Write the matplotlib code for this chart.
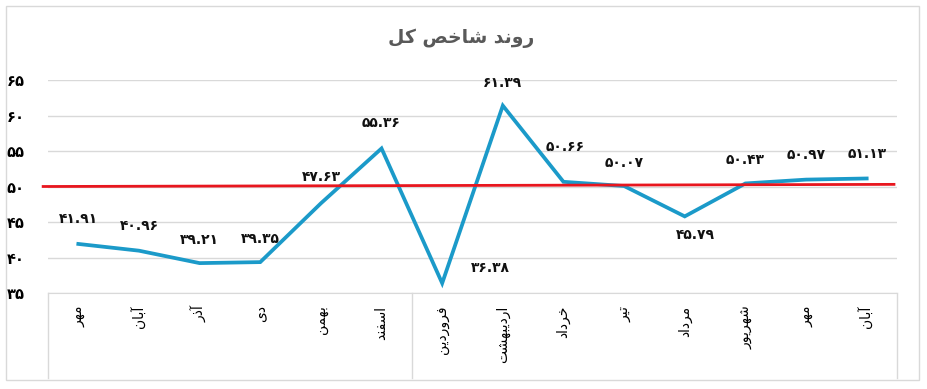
import matplotlib
matplotlib.use("Agg")
import matplotlib.pyplot as plt
from matplotlib.patches import Rectangle
from matplotlib.lines import Line2D
import matplotlib.transforms as mtransforms

# data
months = ["مهر", "آبان", "آذر", "دی", "بهمن", "اسفند",
          "فروردین", "اردیبهشت", "خرداد", "تیر", "مرداد", "شهریور", "مهر", "آبان"]
values = [41.91, 40.96, 39.21, 39.35, 47.63, 55.36,
          36.38, 61.39, 50.66, 50.07, 45.79, 50.43, 50.97, 51.13]
ref_line = [50.0, 50.3]
y_ticks = [35, 40, 45, 50, 55, 60, 65]
title = "روند شاخص کل"

# label offsets in pixels (dx, dy)
label_off = [(0, 25), (0, 25), (0, 23), (0, 23), (0, 26), (0, 25),
             (48, 15), (0, 23), (2, 35), (0, 23), (11, -19), (0, 23), (0, 25), (0, 24)]

# simple arabic shaping (no shaping engine in matplotlib)
FORMS = {
    'ا': ('\uFE8D', '\uFE8E', None, None),
    'آ': ('\uFE81', '\uFE82', None, None),
    'ب': ('\uFE8F', '\uFE90', '\uFE91', '\uFE92'),
    'ت': ('\uFE95', '\uFE96', '\uFE97', '\uFE98'),
    'خ': ('\uFEA5', '\uFEA6', '\uFEA7', '\uFEA8'),
    'د': ('\uFEA9', '\uFEAA', None, None),
    'ذ': ('\uFEAB', '\uFEAC', None, None),
    'ر': ('\uFEAD', '\uFEAE', None, None),
    'س': ('\uFEB1', '\uFEB2', '\uFEB3', '\uFEB4'),
    'ش': ('\uFEB5', '\uFEB6', '\uFEB7', '\uFEB8'),
    'ص': ('\uFEB9', '\uFEBA', '\uFEBB', '\uFEBC'),
    'ف': ('\uFED1', '\uFED2', '\uFED3', '\uFED4'),
    'ل': ('\uFEDD', '\uFEDE', '\uFEDF', '\uFEE0'),
    'م': ('\uFEE1', '\uFEE2', '\uFEE3', '\uFEE4'),
    'ن': ('\uFEE5', '\uFEE6', '\uFEE7', '\uFEE8'),
    'ه': ('\uFEE9', '\uFEEA', '\uFEEB', '\uFEEC'),
    'و': ('\uFEED', '\uFEEE', None, None),
    'ی': ('\uFBFC', '\uFBFD', '\uFBFE', '\uFBFF'),
    'ک': ('\uFB8E', '\uFB8F', '\uFB90', '\uFB91'),
}


def shape(s):
    out = []
    for i, c in enumerate(s):
        if c not in FORMS:
            out.append(c)
            continue
        f = FORMS[c]
        prev = s[i - 1] if i > 0 else None
        nxt = s[i + 1] if i < len(s) - 1 else None
        jp = prev in FORMS and FORMS[prev][2] is not None
        jn = f[2] is not None and nxt in FORMS
        if jp and jn:
            out.append(f[3])
        elif jp:
            out.append(f[1])
        elif jn:
            out.append(f[2])
        else:
            out.append(f[0])
    return "".join(out[::-1])


FA_DIGITS = str.maketrans("0123456789", "۰۱۲۳۴۵۶۷۸۹")


def fa(x, fmt="{:.2f}"):
    return fmt.format(x).translate(FA_DIGITS)


plt.rcParams["font.family"] = ["DejaVu Sans"]

fig = plt.figure(figsize=(9.27, 3.89), dpi=100)
ax = fig.add_axes([48 / 927, 1 - 293 / 389, 849 / 927, 213 / 389])

x = list(range(len(values)))
ax.plot(x, values, color="#1B9AC9", lw=2.7, solid_joinstyle="miter", zorder=3)
ax.plot([-0.58, len(values) - 0.55], ref_line, color="#E8161E", lw=2.0, clip_on=False, zorder=4)

for i, v in enumerate(values):
    dx, dy = label_off[i]
    ax.annotate(fa(v), (i, v), xytext=(dx, dy), textcoords="offset pixels",
                ha="center", va="center", fontsize=10, fontweight="bold", color="#111111")

ax.set_xlim(-0.5, len(values) - 0.5)
ax.set_ylim(35, 65)
ax.set_yticks(y_ticks)
ax.set_yticklabels([fa(t, "{:d}") for t in y_ticks], fontsize=10.5, fontweight="bold")
ax.set_xticks(x)
ax.set_xticklabels([shape(m) for m in months], rotation=90, fontsize=10)
ax.tick_params(axis="both", length=0)
ax.tick_params(axis="y", pad=17)
ax.tick_params(axis="x", pad=9)
ax.grid(axis="y", color="#D9D9D9", lw=1)
ax.set_axisbelow(True)
for s in ["top", "right", "left"]:
    ax.spines[s].set_visible(False)
ax.spines["bottom"].set_color("#D9D9D9")

# category group dividers
trans = mtransforms.blended_transform_factory(ax.transData, ax.transAxes)
for xb in [-0.5, 5.5, len(values) - 0.5]:
    ax.add_line(Line2D([xb, xb], [0, -85 / 213], transform=trans, color="#D9D9D9",
                       lw=1, clip_on=False))

fig.text(0.497, 1 - 38 / 389, shape(title), ha="center", va="center",
         fontsize=13.5, fontweight="bold", color="#595959")

fig.patches.append(Rectangle((6 / 927, 1 - 380 / 389), 913 / 927, 374 / 389,
                             transform=fig.transFigure, fill=False,
                             edgecolor="#D9D9D9", lw=1))

fig.savefig("out.png", dpi=100)
